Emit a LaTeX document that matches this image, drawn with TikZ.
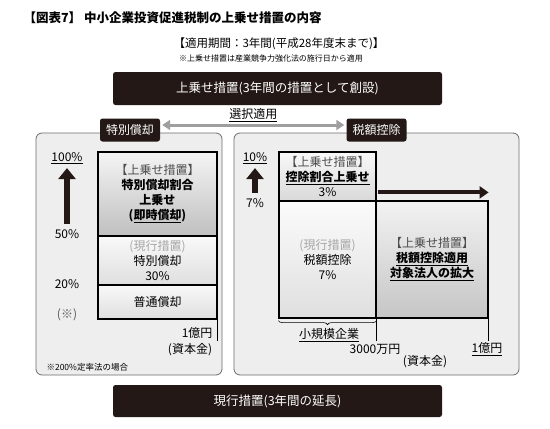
\documentclass[tikz,border=0pt]{standalone}
\usepackage{fontspec}
\setmainfont{Noto Sans CJK JP}
\usetikzlibrary{positioning,arrows.meta,decorations.pathreplacing}
\definecolor{inkdark}{HTML}{231815}
\definecolor{panelgray}{HTML}{EEEEEE}
\newcommand{\undl}[1]{\underline{#1}}

\begin{document}
\begin{tikzpicture}[x=1pt, y=-1pt, font=\fontsize{12}{15}\selectfont]
\tikzstyle{darkbox} = [rectangle, fill=inkdark, text=white, rounded corners=2.5pt, inner sep=0pt]
\tikzstyle{panel} = [rectangle, draw=gray!85!black, fill=panelgray, rounded corners=6pt, line width=0.8pt, inner sep=0pt]
\tikzstyle{tab} = [darkbox, minimum width=60pt, minimum height=23pt]
\tikzstyle{bar} = [rectangle, draw=black, line width=1.2pt, inner sep=0pt, align=center]
\tikzstyle{bigarrow} = [line width=6pt, draw=inkdark, -{Triangle[width=17pt,length=11pt]}]
\tikzstyle{grayarrow} = [line width=3pt, draw=gray!75, {Triangle[width=10pt,length=8pt]}-{Triangle[width=10pt,length=8pt]}]
\tikzstyle{tickline} = [line width=0.5pt, draw=black]
\tikzstyle{soft} = [text=gray!70!black]

\useasboundingbox (0,0) rectangle (550,429);

% heading
\node (title) [anchor=west, font=\fontsize{12.5}{15}\selectfont\bfseries] at (20,18) {【図表7】\ 中小企業投資促進税制の上乗せ措置の内容};
\node (period) [font=\fontsize{11.5}{14}\selectfont] at (279,44) {【適用期間：3年間(平成28年度末まで)】};
\node (period note) [font=\fontsize{8}{10}\selectfont] at (271,58) {※上乗せ措置は産業競争力強化法の施行日から適用};

\node (topbox) [darkbox, minimum width=329pt, minimum height=33pt, font=\fontsize{12.5}{15}\selectfont] at (277.5,88.5) {上乗せ措置(3年間の措置として創設)};
\node (botbox) [darkbox, minimum width=329pt, minimum height=32pt, font=\fontsize{12.5}{15}\selectfont] at (277.5,401) {現行措置(3年間の延長)};

% panels
\node (lpanel) [panel, minimum width=186pt, minimum height=242pt] at (129,254) {};
\node (rpanel) [panel, minimum width=285pt, minimum height=242pt] at (376.5,254) {};
\node (ltab) [tab] at (130,130) {特別償却};
\node (rtab) [tab] at (376.5,130) {税額控除};
\draw [grayarrow] ([xshift=2pt,yshift=5pt]ltab.east) -- node[above=0.5pt, text=black, inner sep=1pt] {\undl{選択適用}} ([xshift=-2pt,yshift=5pt]rtab.west);

% left: special depreciation
\node (pct100) at (67,158) {\undl{100\%}};
\node (pct50) at (67,234) {50\%};
\node (pct20) at (67,284) {20\%};
\node (lnote) [soft] at (67,315) {(※)};
\draw [bigarrow] ([yshift=2pt]pct50.north) -- ([yshift=-1pt]pct100.south);

\node (ltop) [bar, minimum width=119pt, minimum height=84pt, top color=gray!8, bottom color=gray!50] at (157.5,194)
  {\textcolor{gray!60!black}{【上乗せ措置】}\\ \textbf{特別償却割合}\\ \textbf{上乗せ}\\ \textbf{(\undl{即時償却})}};
\node (lmid) [bar, minimum width=119pt, minimum height=49pt, top color=gray!5, bottom color=gray!25] at (157.5,260.5)
  {\textcolor{gray!70}{(現行措置)}\\ 特別償却\\ 30\%};
\node (lbot) [bar, minimum width=119pt, minimum height=34pt, top color=gray!5, bottom color=gray!25] at (157.5,302)
  {普通償却};
\coordinate (ltick) at ([yshift=-21pt]lbot.south east);
\draw [tickline] (lbot.south east) -- (ltick);
\node (lcap) [anchor=east] at (216,333) {1億円};
\node (lcapnote) at (190,350) {(資本金)};
\node (lfoot) [anchor=west, font=\fontsize{8.5}{10}\selectfont] at (43,367) {※200\%定率法の場合};

% right: tax credit
\node (pct10) at (255,158) {\undl{10\%}};
\node (pct7) at (255,203) {7\%};
\draw [bigarrow] ([yshift=2pt]pct7.north) -- ([yshift=-1pt]pct10.south);

\node (rtop) [bar, minimum width=97pt, minimum height=49pt, top color=gray!5, bottom color=gray!30] at (327.5,176.5)
  {\textcolor{gray!60!black}{【上乗せ措置】}\\ \textbf{\undl{控除割合上乗せ}}\\ 3\%};
\node (rcur) [bar, minimum width=97pt, minimum height=117pt, top color=gray!3, bottom color=gray!25] at (327.5,259.5)
  {\textcolor{gray!70}{(現行措置)}\\ 税額控除\\ 7\%};
\node (rnew) [bar, minimum width=112pt, minimum height=117pt, top color=gray!10, bottom color=gray!45] at (432,259.5)
  {\textcolor{gray!60!black}{【上乗せ措置】}\\ \textbf{\undl{税額控除適用}}\\ \textbf{\undl{対象法人の拡大}}};
\coordinate (rarrs) at ([xshift=3pt,yshift=8pt]rnew.north west);
\coordinate (rarre) at ([yshift=8pt]rnew.north east);
\draw [line width=4pt, draw=inkdark, -{Triangle[width=12pt,length=9pt]}] (rarrs) -- (rarre);

\draw [decorate, decoration={brace, mirror, amplitude=4pt}, line width=0.6pt] ([yshift=-2pt]rcur.south west) -- ([yshift=-2pt]rcur.south east);
\node (small) at (329,335) {\undl{小規模企業}};
\coordinate (rtick1) at ([yshift=-22pt]rcur.south east);
\coordinate (rtick2) at ([yshift=-22pt]rnew.south east);
\draw [tickline] (rcur.south east) -- (rtick1);
\draw [tickline] (rnew.south east) -- (rtick2);
\node (rcap1) at (375,349) {3000万円};
\node (rcapnote) at (425,362) {(資本金)};
\node (rcap2) at (487,349) {\undl{1億円}};
\end{tikzpicture}
\end{document}
